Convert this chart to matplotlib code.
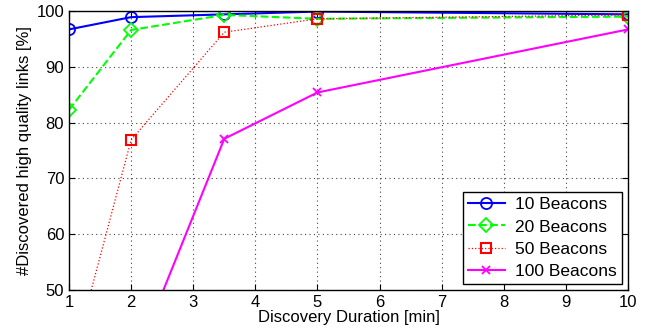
import matplotlib
matplotlib.use("Agg")
import matplotlib.pyplot as plt

# Discovery durations [min]
durations = [1, 2, 3.5, 5, 10]

# Discovered high quality links [%]
beacons_10 = [96.7, 98.9, 99.4, 99.9, 99.4]
beacons_20 = [82.3, 96.6, 99.3, 98.6, 99.0]
beacons_50 = [35.0, 76.9, 96.2, 98.6, 99.3]
beacons_100 = [20.0, 35.6, 77.1, 85.4, 96.7]

x_ticks = [1, 2, 3, 4, 5, 6, 7, 8, 9, 10]
y_ticks = [50, 60, 70, 80, 90, 100]

plt.rcParams["font.family"] = ["Liberation Sans", "DejaVu Sans"]

fig = plt.figure(figsize=(6.51, 3.34), dpi=100)
ax = fig.add_axes([69 / 651, 1 - 290 / 334, (628 - 69) / 651, (290 - 11) / 334])

ax.plot(durations, beacons_10, "-", color="#0000ff", linewidth=1.5,
        marker="o", markersize=8, markerfacecolor="none", markeredgewidth=1.3,
        label="10 Beacons")
ax.plot(durations, beacons_20, "--", color="#00ff00", linewidth=1.5,
        marker="D", markersize=7, markerfacecolor="none", markeredgewidth=1.3,
        label="20 Beacons")
ax.plot(durations, beacons_50, ":", color="#ff0000", linewidth=0.9,
        marker="s", markersize=7, markerfacecolor="none", markeredgewidth=1.5,
        label="50 Beacons")
ax.plot(durations, beacons_100, "-", color="#ff00ff", linewidth=1.5,
        marker="x", markersize=6, markeredgewidth=1.3,
        label="100 Beacons")

ax.set_xlim(1, 10)
ax.set_ylim(50, 100)
ax.set_xticks(x_ticks)
ax.set_yticks(y_ticks)
ax.tick_params(direction="in", top=True, right=True, labelsize=12, length=4)
ax.grid(True, color="#444444", linestyle=(0, (1, 3)), linewidth=0.8)
for s in ax.spines.values():
    s.set_linewidth(1.0)

ax.set_xlabel("Discovery Duration [min]", fontsize=12, labelpad=0)
ax.set_ylabel("#Discovered high quality links [%]", fontsize=12, labelpad=3)

leg = ax.legend(loc="lower right", fontsize=12.5, fancybox=False, edgecolor="black",
                framealpha=1, borderaxespad=0.35, handlelength=2.1,
                labelspacing=0.4, borderpad=0.3, handletextpad=0.6)
leg.get_frame().set_linewidth(1.0)

fig.savefig("out.png", dpi=100)
